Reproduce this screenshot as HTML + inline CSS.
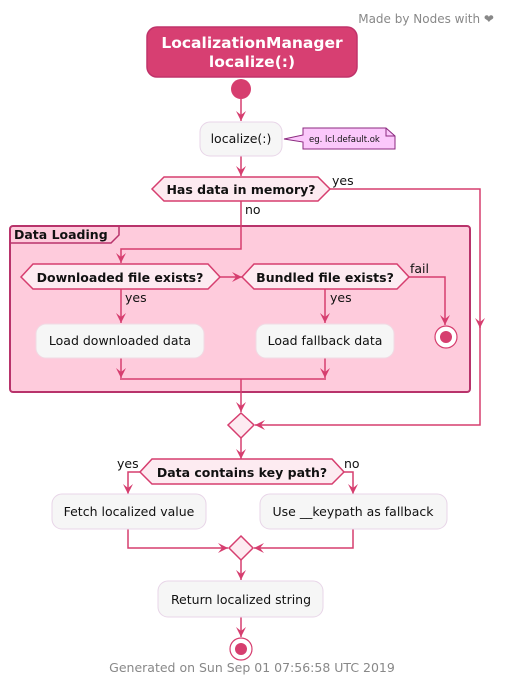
<!DOCTYPE html>
<html><head><meta charset="utf-8"><style>
html,body{margin:0;padding:0;background:#fff;}
svg{display:block;}
text{font-family:"DejaVu Sans","Liberation Sans",sans-serif;}
</style></head><body>
<svg width="506" height="684" viewBox="0 0 506 684" xmlns="http://www.w3.org/2000/svg">
<defs>
<marker id="a" markerWidth="12" markerHeight="12" refX="10" refY="5" orient="auto" markerUnits="userSpaceOnUse">
<path d="M0,0 L10,5 L0,10 L4,5 Z" fill="#d63e6f"/>
</marker>
</defs>
<text x="494" y="23" font-size="12" fill="#888" text-anchor="end">Made by Nodes with ❤</text>
<rect x="10" y="226" width="460" height="166" rx="3" fill="#fecbdc" stroke="#b8336b" stroke-width="2"/>
<path d="M10,243 L111,243 L119,235 L119,226" fill="none" stroke="#b8336b" stroke-width="1.5"/>
<text x="14" y="239" font-size="12.5" font-weight="bold" fill="#111">Data Loading</text>
<rect x="147" y="27" width="210" height="50" rx="10" fill="#d73f72" stroke="#c0336a" stroke-width="1.5"/>
<text x="252" y="48" font-size="15.5" font-weight="bold" fill="#fff" text-anchor="middle">LocalizationManager</text>
<text x="252" y="67" font-size="15.5" font-weight="bold" fill="#fff" text-anchor="middle">localize(:)</text>
<circle cx="241" cy="89" r="10" fill="#d63e6f"/>
<g stroke="#d63e6f" stroke-width="1.5" fill="none">
<line x1="241" y1="99" x2="241" y2="121" marker-end="url(#a)"/>
<line x1="241" y1="156" x2="241" y2="176" marker-end="url(#a)"/>
<polyline points="330,189 480,189 480,328" marker-end="url(#a)"/>
<polyline points="480,326 480,425 255,425" marker-end="url(#a)"/>
<polyline points="241,201 241,249 121,249 121,263" marker-end="url(#a)"/>
</g>
<rect x="200" y="122" width="82" height="34" rx="10" fill="#f6f6f6" stroke="#e8d5e8"/>
<text x="241" y="143" font-size="12.5" fill="#111" text-anchor="middle">localize(:)</text>
<path d="M303,128 L386,128 L395,136 L395,149 L303,149 L303,142 L284,139 L303,135 Z" fill="#fbc8fb" stroke="#8b2a7f"/>
<path d="M386,128 L386,136 L395,136" fill="none" stroke="#8b2a7f"/>
<text x="309" y="142" font-size="8.5" fill="#111">eg. lcl.default.ok</text>
<polygon points="164,177 318,177 330,189 318,201 164,201 152,189" fill="#fdebf1" stroke="#d63e6f" stroke-width="1.5"/>
<text x="241" y="194" font-size="12.5" font-weight="bold" fill="#111" text-anchor="middle">Has data in memory?</text>
<text x="332" y="185" font-size="12.5" fill="#111">yes</text>
<text x="245" y="214" font-size="12.5" fill="#111">no</text>
<g stroke="#d63e6f" stroke-width="1.5" fill="none">
<line x1="220" y1="277" x2="242" y2="277" marker-end="url(#a)"/>
<line x1="121" y1="289" x2="121" y2="323" marker-end="url(#a)"/>
<line x1="325" y1="289" x2="325" y2="323" marker-end="url(#a)"/>
<polyline points="409,277 445,277 445,325" marker-end="url(#a)"/>
<line x1="121" y1="358" x2="121" y2="378" marker-end="url(#a)"/>
<line x1="325" y1="358" x2="325" y2="378" marker-end="url(#a)"/>
<line x1="120" y1="379" x2="326" y2="379"/>
<line x1="241" y1="379" x2="241" y2="412" marker-end="url(#a)"/>
</g>
<polygon points="33,264 208,264 220,277 208,289 33,289 21,277" fill="#fdebf1" stroke="#d63e6f" stroke-width="1.5"/>
<text x="120" y="282" font-size="12.5" font-weight="bold" fill="#111" text-anchor="middle">Downloaded file exists?</text>
<polygon points="254,264 397,264 409,277 397,289 254,289 242,277" fill="#fdebf1" stroke="#d63e6f" stroke-width="1.5"/>
<text x="325" y="282" font-size="12.5" font-weight="bold" fill="#111" text-anchor="middle">Bundled file exists?</text>
<text x="410" y="273" font-size="12.5" fill="#111">fail</text>
<text x="125" y="302" font-size="12.5" fill="#111">yes</text>
<text x="330" y="302" font-size="12.5" fill="#111">yes</text>
<rect x="36" y="324" width="168" height="34" rx="10" fill="#f6f6f6" stroke="#f0dbe4"/>
<text x="120" y="345" font-size="12.5" fill="#111" text-anchor="middle">Load downloaded data</text>
<rect x="256" y="324" width="138" height="34" rx="10" fill="#f6f6f6" stroke="#f0dbe4"/>
<text x="325" y="345" font-size="12.5" fill="#111" text-anchor="middle">Load fallback data</text>
<circle cx="446" cy="337" r="11" fill="#fff" stroke="#d63e6f" stroke-width="1.2"/>
<circle cx="446" cy="337" r="6" fill="#d63e6f"/>
<polygon points="241,413 254,425 241,438 228,425" fill="#fdebf1" stroke="#d63e6f" stroke-width="1.5"/>
<g stroke="#d63e6f" stroke-width="1.5" fill="none">
<line x1="241" y1="438" x2="241" y2="459" marker-end="url(#a)"/>
<polyline points="140,472 128,472 128,494" marker-end="url(#a)"/>
<polyline points="344,472 353,472 353,494" marker-end="url(#a)"/>
<polyline points="128,529 128,548 228,548" marker-end="url(#a)"/>
<polyline points="353,529 353,548 254,548" marker-end="url(#a)"/>
<line x1="241" y1="560" x2="241" y2="580" marker-end="url(#a)"/>
<line x1="241" y1="617" x2="241" y2="637" marker-end="url(#a)"/>
</g>
<polygon points="152,459 332,459 344,472 332,484 152,484 140,472" fill="#fdebf1" stroke="#d63e6f" stroke-width="1.5"/>
<text x="242" y="477" font-size="12.5" font-weight="bold" fill="#111" text-anchor="middle">Data contains key path?</text>
<text x="117" y="468" font-size="12.5" fill="#111">yes</text>
<text x="344" y="468" font-size="12.5" fill="#111">no</text>
<rect x="52" y="494" width="154" height="35" rx="10" fill="#f6f6f6" stroke="#e8d5e8"/>
<text x="129" y="516" font-size="12.5" fill="#111" text-anchor="middle">Fetch localized value</text>
<rect x="260" y="494" width="187" height="35" rx="10" fill="#f6f6f6" stroke="#e8d5e8"/>
<text x="353" y="516" font-size="12.5" fill="#111" text-anchor="middle">Use __keypath as fallback</text>
<polygon points="241,536 253,548 241,560 229,548" fill="#fdebf1" stroke="#d63e6f" stroke-width="1.5"/>
<rect x="158" y="581" width="165" height="36" rx="10" fill="#f6f6f6" stroke="#e8d5e8"/>
<text x="241" y="604" font-size="12.5" fill="#111" text-anchor="middle">Return localized string</text>
<circle cx="241" cy="649" r="11" fill="#fff" stroke="#d63e6f" stroke-width="1.2"/>
<circle cx="241" cy="649" r="6" fill="#d63e6f"/>
<text x="252" y="672" font-size="12.5" fill="#888" text-anchor="middle">Generated on Sun Sep 01 07:56:58 UTC 2019</text>
</svg>
</body></html>
